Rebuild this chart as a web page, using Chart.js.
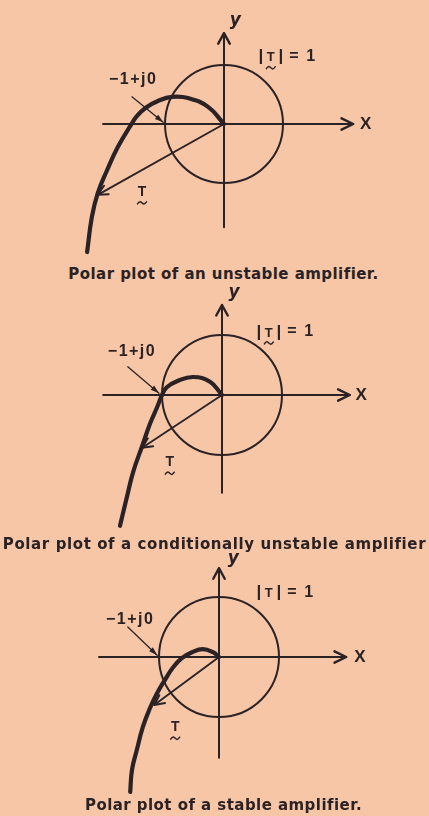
<!DOCTYPE html>
<html>
<head>
<meta charset="utf-8">
<script src="https://cdn.jsdelivr.net/npm/chart.js@4/dist/chart.umd.min.js"></script>
<style>
  html, body { margin: 0; padding: 0; }
  body {
    width: 429px; height: 816px; position: relative; overflow: hidden;
    background: #f6c6a6;
    font-family: "DejaVu Sans", sans-serif;
  }
  .panel { position: absolute; left: 0; }
  .caption {
    position: absolute; width: 429px; text-align: center;
    font-weight: bold; font-size: 15px; line-height: 17px;
    letter-spacing: 0.45px; color: #2b2226; white-space: nowrap;
  }
</style>
</head>
<body>
<canvas id="unstable" class="panel" width="429" height="264" style="top:0"></canvas>
<div class="caption" style="top:266px; left:9px">Polar plot of an unstable amplifier.</div>

<canvas id="conditional" class="panel" width="429" height="258" style="top:280px"></canvas>
<div class="caption" style="top:536px; left:0; letter-spacing:0.6px">Polar plot of a conditionally unstable amplifier</div>

<canvas id="stable" class="panel" width="429" height="252" style="top:545px"></canvas>
<div class="caption" style="top:797px; left:9px">Polar plot of a stable amplifier.</div>

<script>
// Loop gain T(jw) traced from high frequency (origin) down to low frequency.
// Units are |T|, so the unit circle is |T| = 1.
const unstableRe = [0, -0.27, -0.61, -0.88, -1.12, -1.32, -1.47, -1.58, -1.80, -1.98, -2.14, -2.24, -2.32];
const unstableIm = [0, 0.29, 0.44, 0.46, 0.39, 0.28, 0.14, -0.02, -0.39, -0.78, -1.17, -1.58, -2.17];

const conditionalRe = [0, -0.20, -0.48, -0.75, -0.92, -1.00, -1.08, -1.20, -1.33, -1.48, -1.58, -1.70];
const conditionalIm = [0, 0.22, 0.30, 0.23, 0.13, 0.00, -0.20, -0.48, -0.85, -1.28, -1.68, -2.18];

const stableRe = [0, -0.10, -0.27, -0.45, -0.62, -0.77, -0.90, -1.03, -1.15, -1.27, -1.37, -1.45, -1.48];
const stableIm = [0, 0.08, 0.13, 0.08, -0.02, -0.18, -0.38, -0.60, -0.85, -1.17, -1.55, -1.88, -2.25];

// the phasor T drawn from the origin to a point on each locus
const unstableT = [-2.14, -1.20];
const conditionalT = [-1.33, -0.88];
const stableT = [-1.08, -0.80];

const INK = '#2b2226';

function toPoints(re, im) {
  return re.map((v, i) => ({ x: v, y: im[i] }));
}

function strokeLine(ctx, x0, y0, x1, y1) {
  ctx.beginPath();
  ctx.moveTo(x0, y0);
  ctx.lineTo(x1, y1);
  ctx.stroke();
}

// open "V" head at (x1, y1) pointing away from (x0, y0)
function openHead(ctx, x0, y0, x1, y1, len, spread) {
  const a = Math.atan2(y1 - y0, x1 - x0);
  ctx.beginPath();
  ctx.moveTo(x1 - len * Math.cos(a - spread), y1 - len * Math.sin(a - spread));
  ctx.lineTo(x1, y1);
  ctx.lineTo(x1 - len * Math.cos(a + spread), y1 - len * Math.sin(a + spread));
  ctx.stroke();
}

function filledHead(ctx, x0, y0, x1, y1, len, spread) {
  const a = Math.atan2(y1 - y0, x1 - x0);
  ctx.beginPath();
  ctx.moveTo(x1, y1);
  ctx.lineTo(x1 - len * Math.cos(a - spread), y1 - len * Math.sin(a - spread));
  ctx.lineTo(x1 - len * Math.cos(a + spread), y1 - len * Math.sin(a + spread));
  ctx.closePath();
  ctx.fill();
}

// little wave used under vector symbols
function tilde(ctx, cx, cy, w) {
  ctx.beginPath();
  ctx.moveTo(cx - w / 2, cy + 1);
  ctx.bezierCurveTo(cx - w / 4, cy - 2.5, cx - w / 8, cy - 1, cx, cy);
  ctx.bezierCurveTo(cx + w / 8, cy + 1, cx + w / 4, cy + 2.5, cx + w / 2, cy - 1);
  ctx.stroke();
}

const polarFrame = o => ({
  id: 'polarFrame',
  beforeDatasetsDraw(chart) {
    const { ctx, scales: { x, y } } = chart;
    const px = v => x.getPixelForValue(v);
    const py = v => y.getPixelForValue(v);
    ctx.save();
    ctx.strokeStyle = INK;
    ctx.lineWidth = 2;
    ctx.lineCap = 'round';
    ctx.lineJoin = 'round';

    // real axis
    strokeLine(ctx, px(o.xAxis[0]), py(0), px(o.xAxis[1]), py(0));
    ctx.lineWidth = 2.4;
    openHead(ctx, px(o.xAxis[0]), py(0), px(o.xAxis[1]), py(0), 13, 0.45);
    // imaginary axis
    ctx.lineWidth = 2;
    strokeLine(ctx, px(0), py(o.yAxis[0]), px(0), py(o.yAxis[1]));
    ctx.lineWidth = 2.4;
    openHead(ctx, px(0), py(o.yAxis[0]), px(0), py(o.yAxis[1]), 12, 0.5);

    // |T| = 1
    ctx.lineWidth = 2;
    ctx.beginPath();
    ctx.arc(px(0), py(0), px(1) - px(0), 0, Math.PI * 2);
    ctx.stroke();
    ctx.restore();
  },
  afterDatasetsDraw(chart) {
    const { ctx, scales: { x, y } } = chart;
    const px = v => x.getPixelForValue(v);
    const py = v => y.getPixelForValue(v);
    ctx.save();
    ctx.strokeStyle = INK;
    ctx.fillStyle = INK;
    ctx.lineCap = 'round';
    ctx.lineJoin = 'round';

    // head on the T phasor
    ctx.lineWidth = 2;
    openHead(ctx, px(0), py(0), px(o.tip[0]), py(o.tip[1]), 11, 0.45);

    // pointer to -1 + j0
    ctx.lineWidth = 1.3;
    const [t0, t1] = o.pointer;
    strokeLine(ctx, px(t0[0]), py(t0[1]), px(t1[0]), py(t1[1]));
    filledHead(ctx, px(t0[0]), py(t0[1]), px(t1[0]), py(t1[1]), 9, 0.3);

    ctx.textBaseline = 'middle';

    // axis names
    ctx.textAlign = 'center';
    ctx.font = 'italic bold 17px "DejaVu Sans", sans-serif';
    ctx.fillText('y', px(o.yLabel[0]), py(o.yLabel[1]));
    ctx.font = 'bold 17px "Liberation Sans", sans-serif';
    ctx.fillText('X', px(o.xLabel[0]), py(o.xLabel[1]));

    // |T| = 1
    const ux = px(o.unitLabel[0]), uy = py(o.unitLabel[1]);
    ctx.textAlign = 'center';
    ctx.font = 'bold 17px "Liberation Sans", sans-serif';
    ctx.fillText('|', ux + 2, uy);
    ctx.fillText('|', ux + 22, uy);
    ctx.font = 'bold 13px "Liberation Sans", sans-serif';
    ctx.fillText('T', ux + 12, uy + 1);
    ctx.font = 'bold 16px "Liberation Sans", sans-serif';
    ctx.fillText('=', ux + 35, uy);
    ctx.fillText('1', ux + 52, uy);
    if (o.tilde) {
      ctx.lineWidth = 1.4;
      tilde(ctx, ux + 12, uy + 11, 9);
    }

    // -1 + j0
    ctx.font = 'bold 16px "Liberation Sans", sans-serif';
    ctx.letterSpacing = '1.5px';
    ctx.fillText('\u22121+j0', px(o.minusOne[0]), py(o.minusOne[1]));
    ctx.letterSpacing = '0px';

    // T, with a tilde underneath
    const tx = px(o.tLabel[0]), ty = py(o.tLabel[1]);
    ctx.font = 'bold 14px "Liberation Sans", sans-serif';
    ctx.fillText('T', tx, ty);
    ctx.lineWidth = 1.5;
    tilde(ctx, tx, ty + 11, 9);

    ctx.restore();
  }
});

function makePanel(canvasId, o) {
  const canvas = document.getElementById(canvasId);
  const W = canvas.width, H = canvas.height;
  return new Chart(canvas, {
    type: 'scatter',
    data: {
      datasets: [
        {
          data: toPoints(o.re, o.im),
          showLine: true,
          borderColor: INK,
          borderWidth: 4.2,
          borderCapStyle: 'round',
          borderJoinStyle: 'round',
          pointRadius: 0,
          tension: 0.45,
          fill: false
        },
        {
          data: [{ x: 0, y: 0 }, { x: o.tip[0], y: o.tip[1] }],
          showLine: true,
          borderColor: INK,
          borderWidth: 1.9,
          pointRadius: 0,
          fill: false
        }
      ]
    },
    options: {
      responsive: false,
      animation: false,
      devicePixelRatio: 1,
      layout: { padding: 0 },
      plugins: { legend: { display: false }, tooltip: { enabled: false } },
      scales: {
        x: { type: 'linear', display: false, min: -o.ox / o.unit, max: (W - o.ox) / o.unit },
        y: { type: 'linear', display: false, min: -(H - o.oy) / o.unit, max: o.oy / o.unit }
      }
    },
    plugins: [polarFrame(o)]
  });
}

makePanel('unstable', {
  re: unstableRe, im: unstableIm, tip: unstableT,
  ox: 224, oy: 124, unit: 59,
  xAxis: [-2.05, 2.19], yAxis: [-1.75, 1.54],
  pointer: [[-1.56, 0.46], [-1.03, 0.03]],
  yLabel: [0.19, 1.75], xLabel: [2.4, 0],
  unitLabel: [0.59, 1.14], minusOne: [-1.54, 0.76], tLabel: [-1.39, -1.15],
  tilde: true
});

makePanel('conditional', {
  re: conditionalRe, im: conditionalIm, tip: conditionalT,
  ox: 222, oy: 115, unit: 60,
  xAxis: [-1.98, 2.13], yAxis: [-1.63, 1.50],
  pointer: [[-1.57, 0.47], [-1.05, 0.03]],
  yLabel: [0.2, 1.70], xLabel: [2.32, 0],
  unitLabel: [0.58, 1.05], minusOne: [-1.50, 0.72], tLabel: [-0.87, -1.12],
  tilde: true
});

makePanel('stable', {
  re: stableRe, im: stableIm, tip: stableT,
  ox: 219, oy: 112, unit: 60,
  xAxis: [-2.00, 2.12], yAxis: [-1.68, 1.48],
  pointer: [[-1.52, 0.50], [-1.03, 0.03]],
  yLabel: [0.24, 1.64], xLabel: [2.35, 0],
  unitLabel: [0.63, 1.08], minusOne: [-1.48, 0.62], tLabel: [-0.73, -1.17],
  tilde: false
});
</script>
</body>
</html>
